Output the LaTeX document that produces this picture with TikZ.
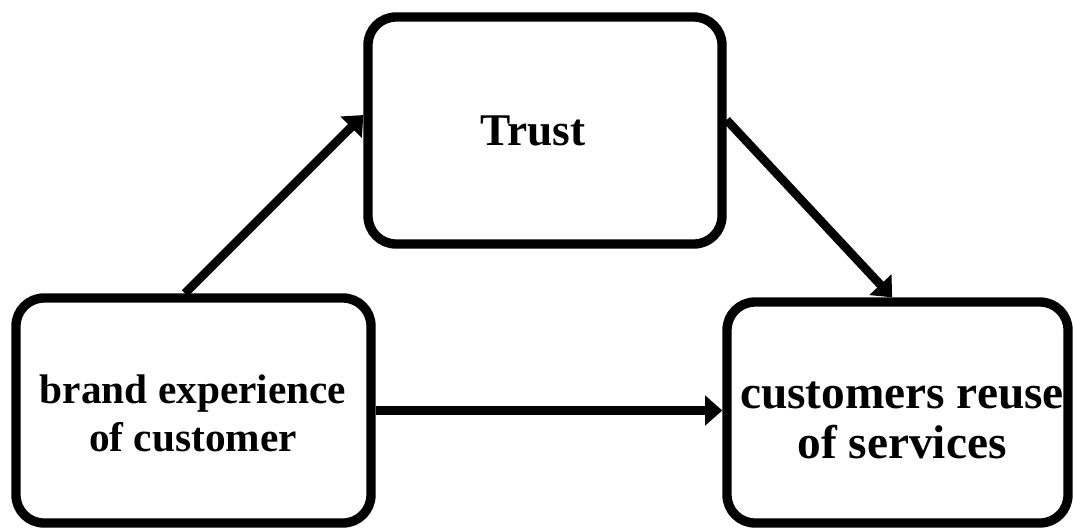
\documentclass[tikz,border=0pt]{standalone}
\usepackage{fontspec}
\setmainfont{Liberation Serif}
\usetikzlibrary{arrows.meta}
\begin{document}
\begin{tikzpicture}[x=0.75pt,y=-0.75pt,
  box/.style={draw, line width=7pt, rounded corners=21pt, fill=white, inner sep=0pt},
  arr/.style={line width=6.5pt, -{Triangle[length=13pt,width=22pt]}},
  lbl/.style={align=center, inner sep=0pt, font=\bfseries\fontsize{34}{37.5}\selectfont}]
\useasboundingbox (0,0) rectangle (1073,529);
% boxes
\node[box, minimum width=265.5pt, minimum height=170.25pt] (T) at (545,130.5) {};
\node[box, minimum width=266.25pt, minimum height=168.75pt] (L) at (193.5,410.5) {};
\node[box, minimum width=255.75pt, minimum height=165.75pt] (R) at (897.5,412.5) {};
% labels
\node[lbl] (tT) at (533,131) {Trust};
\node[lbl, font=\bfseries\fontsize{31}{36}\selectfont] (tL) at (193,413) {brand experience\\of customer};
\node[lbl, font=\bfseries\fontsize{35.5}{37.5}\selectfont] (tR) at (902,420) {customers reuse\\of services};
% connectors
\draw[arr] ([xshift=-6.4pt]L.north) -- ([yshift=11.6pt]T.west);
\draw[arr] ([yshift=7.9pt]T.east) -- ([xshift=-4pt]R.north);
\draw[arr] (L.east) -- (L.east -| R.west);
\end{tikzpicture}
\end{document}
